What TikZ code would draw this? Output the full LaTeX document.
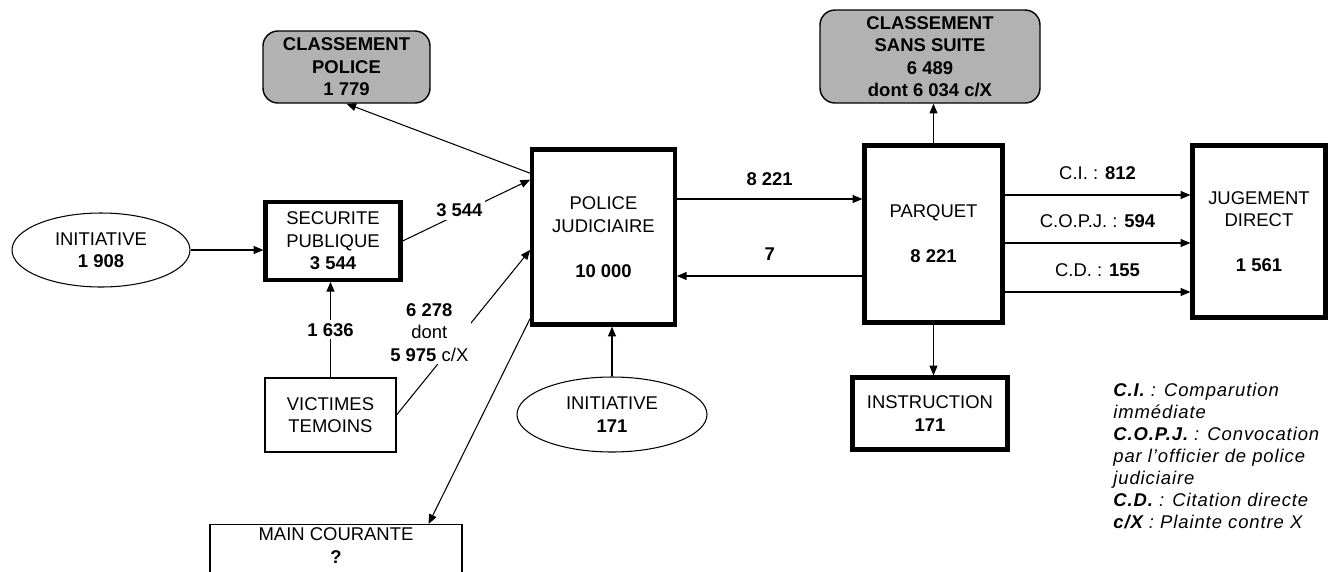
\documentclass[tikz,border=0pt]{standalone}
\usepackage{fontspec}
\setmainfont{Liberation Sans}
\usepackage{tikz}
\usetikzlibrary{arrows.meta, positioning, shapes.geometric}

\begin{document}
\begin{tikzpicture}[scale=1.0,
  every node/.style={font=\fontsize{10.5}{12.8}\selectfont},
  thickbox/.style={draw, line width=2.4pt, align=center, inner sep=0pt},
  thinbox/.style={draw, line width=0.6pt, align=center, inner sep=0pt},
  greybox/.style={draw, line width=0.8pt, fill=gray!60, rounded corners=0.3cm, align=center, inner sep=0pt,
    font=\fontsize{10.5}{12.8}\selectfont\bfseries},
  oval/.style={draw, ellipse, line width=0.6pt, align=center, inner sep=0pt},
  flow/.style={-{Triangle[length=5.5pt,width=4.5pt]}, line width=0.6pt},
  count/.style={fill=white, inner sep=1.5pt, font=\fontsize{10.5}{12.8}\selectfont\bfseries}]
  \useasboundingbox (0,0) rectangle (26.6,-11.42);
  % ---------- POLICE SIDE ----------
  \node[greybox, minimum width=3.34cm, minimum height=1.44cm] (CP) at (6.93,-1.34) {CLASSEMENT\\POLICE\\1 779};
  \node[oval, minimum width=3.56cm, minimum height=1.48cm] (INI1) at (2.02,-5.0) {INITIATIVE\\\textbf{1 908}};
  \node[thickbox, minimum width=2.7cm, minimum height=1.55cm] (SP) at (6.66,-4.82) {SECURITE\\PUBLIQUE\\\textbf{3 544}};
  \node[thinbox, minimum width=2.62cm, minimum height=1.48cm] (VT) at (6.61,-8.3) {VICTIMES\\TEMOINS};
  \node[thinbox, anchor=north, minimum width=5.04cm, inner ysep=2pt] (MC) at (6.72,-10.48) {MAIN COURANTE\\\textbf{?}\\\mbox{}};
  \node[thickbox, minimum width=2.85cm, minimum height=3.5cm] (PJ) at (12.07,-4.74) {POLICE\\JUDICIAIRE\\[12.8pt]\textbf{10 000}};
  \node[oval, minimum width=3.8cm, minimum height=1.5cm] (INI2) at (12.24,-8.29) {INITIATIVE\\\textbf{171}};
  \coordinate (MCin) at ([xshift=-0.68cm]MC.north east);
  % ---------- PARQUET SIDE ----------
  \node[thickbox, minimum width=2.76cm, minimum height=3.54cm] (PARQ) at (18.67,-4.68) {PARQUET\\[12.8pt]\textbf{8 221}};
  \node[greybox, minimum width=4.4cm, minimum height=1.86cm] (CSS) at (18.6,-1.13) {CLASSEMENT\\SANS SUITE\\6 489\\dont 6 034 c/X};
  \node[thickbox, minimum width=3.1cm, minimum height=1.44cm] (INS) at (18.6,-8.27) {INSTRUCTION\\\textbf{171}};
  \node[thickbox, minimum width=2.66cm, minimum height=3.44cm] (JD) at (25.18,-4.63) {JUGEMENT\\DIRECT\\[12.8pt]\textbf{1 561}};
  % ---------- KEY ----------
  \node[anchor=north west, align=left, inner sep=0pt, font=\fontsize{10.5}{12.5}\selectfont\itshape\addfontfeature{LetterSpace=5}] (KEY) at (22.26,-7.66)
    {\textbf{C.I.} : Comparution\\immédiate\\\textbf{C.O.P.J.} : Convocation\\par l'officier de police\\judiciaire\\\textbf{C.D.} : Citation directe\\\textbf{c/X} : Plainte contre X};
  % ---------- FLOWS ----------
  \draw[flow] (INI1.east) -- (INI1.east -| SP.west);
  \draw[flow] (SP.east) -- node[count, xshift=-4pt] (l3544) {3 544} (PJ.142);
  \draw[flow] (PJ.139) -- (CP.south);
  \draw[flow] (VT.north) -- node[count] (l1636) {1 636} (VT.north |- SP.south);
  \draw[flow] (VT.east) -- node[count, xshift=-0.68cm, align=center] (l6278) {6 278\\\textmd{dont}\\5 975 \textmd{c/X}} (PJ.190);
  \draw[flow] (PJ.228) -- (MCin);
  \draw[flow] (INI2.north) -- (INI2.north |- PJ.south);
  \draw[flow] ([yshift=0.76cm]PJ.east) -- node[above=4pt, font=\fontsize{10.5}{12.8}\selectfont\bfseries] (l8221) {8 221} ([yshift=0.76cm]PJ.east -| PARQ.west);
  \draw[flow] ([yshift=-0.84cm]PARQ.west) -- node[above=5pt, font=\fontsize{10.5}{12.8}\selectfont\bfseries] (l7) {7} ([yshift=-0.84cm]PARQ.west -| PJ.east);
  \draw[flow] (PARQ.north) -- (PARQ.north |- CSS.south);
  \draw[flow] (PARQ.south) -- (PARQ.south |- INS.north);
  \draw[flow] ([yshift=0.78cm]PARQ.east) -- node[above=5pt] (lci) {C.I. : \textbf{812}} ([yshift=0.78cm]PARQ.east -| JD.west);
  \draw[flow] ([yshift=-0.18cm]PARQ.east) -- node[above=5pt] (lcopj) {C.O.P.J. : \textbf{594}} ([yshift=-0.18cm]PARQ.east -| JD.west);
  \draw[flow] ([yshift=-1.16cm]PARQ.east) -- node[above=5pt] (lcd) {C.D. : \textbf{155}} ([yshift=-1.16cm]PARQ.east -| JD.west);
\end{tikzpicture}
\end{document}
